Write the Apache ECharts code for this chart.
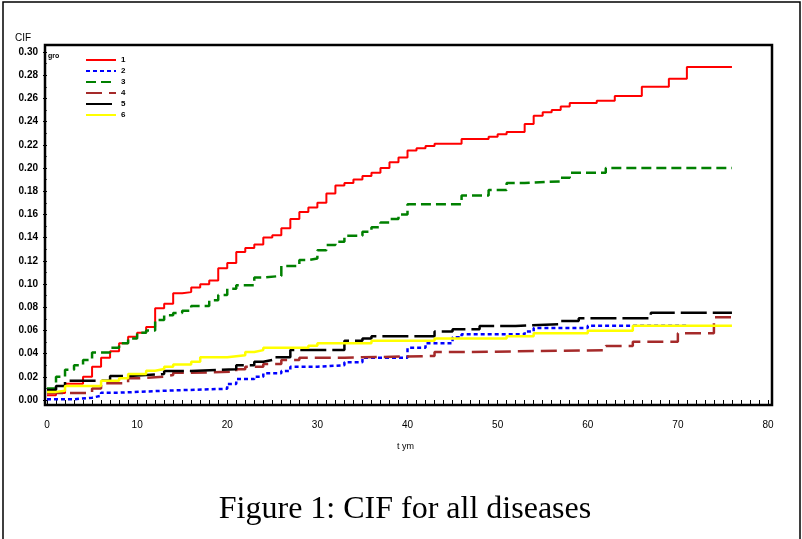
<!DOCTYPE html>
<html>
<head>
<meta charset="utf-8">
<title>CIF for all diseases</title>
<script src="https://cdn.jsdelivr.net/npm/echarts@6/dist/echarts.min.js"></script>
<style>
html, body { margin: 0; padding: 0; background: #fff; }
#cifChart { width: 802px; height: 539px; }
</style>
</head>
<body>
<div id="cifChart"></div>
<script>
// group 1
var g1Time = [0, 1, 2, 4, 5, 6, 7, 8, 9, 10, 11, 12, 13, 14, 15, 16, 17, 18, 19, 20, 21, 22, 23, 24, 25, 26, 27, 28, 29, 30, 31, 32, 33, 34, 35, 36, 37, 38, 39, 40, 41, 42, 43, 46, 49, 50, 51, 53, 54, 55, 56, 57, 58, 61, 63, 66, 69, 71, 76];
var g1Cif = [0.004, 0.006, 0.014, 0.020, 0.0287, 0.0365, 0.042, 0.049, 0.0546, 0.058, 0.063, 0.079, 0.083, 0.092, 0.093, 0.097, 0.0997, 0.103, 0.1135, 0.118, 0.1276, 0.131, 0.134, 0.140, 0.142, 0.148, 0.156, 0.162, 0.166, 0.170, 0.178, 0.185, 0.187, 0.190, 0.193, 0.196, 0.200, 0.205, 0.209, 0.215, 0.217, 0.219, 0.221, 0.225, 0.227, 0.229, 0.231, 0.238, 0.245, 0.248, 0.250, 0.253, 0.256, 0.258, 0.262, 0.270, 0.277, 0.287, 0.287];
// group 2
var g2Time = [0, 3, 5, 6, 8, 13, 20, 21, 23, 24, 26, 27, 30, 33, 35, 40, 42, 45, 46, 53, 54, 60, 71];
var g2Cif = [0.0006, 0.002, 0.0037, 0.0063, 0.008, 0.0097, 0.0138, 0.018, 0.020, 0.023, 0.025, 0.0287, 0.030, 0.0325, 0.0365, 0.045, 0.049, 0.054, 0.0566, 0.059, 0.062, 0.064, 0.064];
// group 3
var g3Time = [0, 1, 2, 3, 4, 5, 7, 8, 9, 10, 11, 12, 13, 14, 15, 16, 18, 19, 20, 21, 23, 24, 26, 28, 29, 30, 31, 32, 33, 35, 36, 37, 38, 39, 40, 46, 49, 51, 53, 57, 58, 62, 76];
var g3Cif = [0.010, 0.020, 0.026, 0.030, 0.0345, 0.041, 0.045, 0.049, 0.053, 0.058, 0.060, 0.069, 0.073, 0.075, 0.077, 0.081, 0.086, 0.0905, 0.096, 0.099, 0.1055, 0.107, 0.1155, 0.1207, 0.122, 0.129, 0.1336, 0.1365, 0.1417, 0.145, 0.149, 0.153, 0.156, 0.160, 0.1687, 0.1764, 0.181, 0.187, 0.1885, 0.1917, 0.196, 0.200, 0.200];
// group 4
var g4Time = [0, 5, 6, 9, 10, 13, 14, 16, 21, 22, 24, 26, 28, 33, 43, 47, 62, 65, 70, 74, 76];
var g4Cif = [0.006, 0.010, 0.0144, 0.0187, 0.020, 0.0216, 0.0235, 0.0244, 0.0265, 0.0287, 0.031, 0.0345, 0.0365, 0.038, 0.0414, 0.043, 0.0466, 0.0503, 0.0575, 0.0713, 0.0713];
// group 5
var g5Time = [0, 1, 2, 7, 9, 11, 13, 16, 21, 23, 24, 25, 27, 33, 35, 36, 43, 45, 48, 52, 57, 59, 67, 76];
var g5Cif = [0.0086, 0.012, 0.0167, 0.0207, 0.0215, 0.0224, 0.025, 0.0265, 0.030, 0.033, 0.0345, 0.0368, 0.043, 0.051, 0.053, 0.055, 0.059, 0.061, 0.0638, 0.0655, 0.068, 0.0704, 0.0753, 0.0753];
// group 6
var g6Time = [0, 1, 2, 6, 8, 9, 11, 12, 13, 14, 16, 17, 20, 22, 23, 24, 29, 30, 36, 43, 51, 54, 60, 65, 76];
var g6Cif = [0.007, 0.008, 0.012, 0.0167, 0.0187, 0.0224, 0.0253, 0.0267, 0.0287, 0.0307, 0.033, 0.0368, 0.0385, 0.0414, 0.043, 0.045, 0.0468, 0.049, 0.051, 0.053, 0.055, 0.0575, 0.0597, 0.064, 0.064];

var groupNames = ['1', '2', '3', '4', '5', '6'];
var groupColors = ['#ff0000', '#0000ff', '#008000', '#a52a2a', '#000000', '#ffff00'];
var groupDash = ['solid', [4, 3], [10, 5], [16, 7], [26, 6], 'solid'];
var groupWidth = [2, 2.5, 2.5, 2.5, 2.5, 2.5];

function pairUp(t, v) {
	var out = [];
	for (var i = 0; i < t.length; i++) {
		out.push([t[i], v[i]]);
	}
	return out;
}

var allData = [
	pairUp(g1Time, g1Cif),
	pairUp(g2Time, g2Cif),
	pairUp(g3Time, g3Cif),
	pairUp(g4Time, g4Cif),
	pairUp(g5Time, g5Cif),
	pairUp(g6Time, g6Cif)
];

var seriesList = [];
for (var k = 0; k < 6; k++) {
	seriesList.push({
		name: groupNames[k],
		type: 'line',
		step: 'end',
		symbol: 'none',
		data: allData[k],
		lineStyle: {
			color: groupColors[k],
			width: groupWidth[k],
			type: groupDash[k]
		},
		itemStyle: { color: groupColors[k] }
	});
}

var cifChart = echarts.init(document.getElementById('cifChart'));

var optionCif = {
	animation: false,
	backgroundColor: '#ffffff',
	textStyle: { fontFamily: 'Liberation Sans, Arial, sans-serif' },
	grid: {
		left: 47,
		top: 52,
		width: 721,
		height: 348
	},
	legend: {
		orient: 'vertical',
		left: 80,
		top: 51,
		itemWidth: 30,
		itemHeight: 8,
		itemGap: 3,
		data: groupNames,
		itemStyle: { opacity: 0, borderWidth: 0 }, // line only, no marker
		textStyle: {
			fontSize: 8,
			fontWeight: 'bold',
			color: '#000'
		}
	},
	xAxis: {
		type: 'value',
		min: 0,
		max: 80,
		interval: 10,
		offset: 5,
		splitLine: { show: false },
		axisLine: { show: false },
		axisTick: { show: true, length: 6, lineStyle: { color: '#000', width: 1 } },
		minorTick: { show: true, splitNumber: 10, length: 4, lineStyle: { color: '#000', width: 1 } },
		axisLabel: {
			margin: 15,
			fontSize: 10,
			color: '#000',
			fontFamily: 'Liberation Sans, Arial, sans-serif'
		}
	},
	yAxis: {
		type: 'value',
		min: 0,
		max: 0.30,
		interval: 0.02,
		offset: 2,
		splitLine: { show: false },
		axisLine: { show: false },
		axisTick: { show: true, length: 4, lineStyle: { color: '#000', width: 1 } },
		minorTick: { show: true, splitNumber: 2, length: 3, lineStyle: { color: '#555', width: 1 } },
		axisLabel: {
			margin: 7,
			fontSize: 10,
			fontWeight: 'bold',
			color: '#000',
			fontFamily: 'Liberation Sans Narrow, Liberation Sans, Arial, sans-serif',
			formatter: function(val) {
				return val.toFixed(2);
			}
		}
	},
	graphic: [
		{ // outer frame
			type: 'rect',
			shape: { x: 3, y: 2, width: 797, height: 545 },
			style: { fill: 'none', stroke: '#000', lineWidth: 1.5 },
			silent: true
		},
		{ // plot frame
			type: 'rect',
			shape: { x: 45, y: 45, width: 727, height: 360 },
			style: { fill: 'none', stroke: '#000', lineWidth: 2.5 },
			silent: true,
			z: 100
		},
		{
			type: 'text',
			left: 15,
			top: 33,
			style: { text: 'CIF', fontSize: 10, fill: '#000', fontFamily: 'Liberation Sans, Arial, sans-serif' }
		},
		{
			type: 'text',
			left: 48,
			top: 53,
			style: { text: 'gro', fontSize: 7, fontWeight: 'bold', fill: '#000', fontFamily: 'Liberation Sans, Arial, sans-serif' }
		},
		{
			type: 'text',
			left: 397,
			top: 442,
			style: { text: 't ym', fontSize: 9, fill: '#000', fontFamily: 'Liberation Sans, Arial, sans-serif' }
		},
		{
			type: 'text',
			x: 405,
			y: 510,
			style: {
				text: 'Figure 1: CIF for all diseases',
				fontSize: 32,
				fill: '#000',
				align: 'center',
				verticalAlign: 'middle',
				fontFamily: 'Liberation Serif, Times New Roman, serif'
			}
		}
	],
	series: seriesList
};

cifChart.setOption(optionCif);
</script>
</body>
</html>
